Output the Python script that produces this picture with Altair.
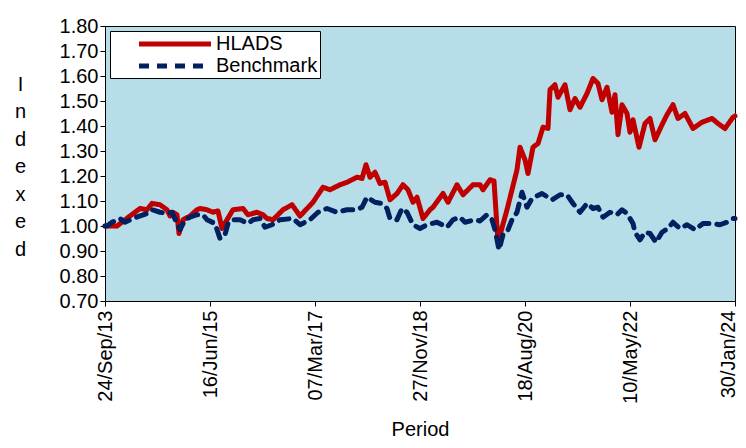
import altair as alt
import pandas as pd

START = "2013-09-24"

# days since 24/Sep/13 and indexed values
hlads_day = [0, 12, 72, 150, 210, 252, 282, 330, 372, 390, 408, 432, 444, 468, 510, 552, 570, 612,
             648, 678, 702, 732, 768, 828, 858, 912, 948, 972, 1008, 1068, 1122, 1170, 1248, 1308,
             1350, 1410, 1452, 1512, 1542, 1566, 1590, 1620, 1650, 1680, 1710, 1752, 1788, 1818,
             1848, 1872, 1908, 1950, 1968, 2028, 2058, 2112, 2148, 2208, 2250, 2268, 2310, 2334,
             2358, 2412, 2472, 2490, 2520, 2538, 2568, 2598, 2628, 2658, 2670, 2700, 2718, 2760,
             2790, 2820, 2850, 2892, 2928, 2958, 2982, 3012, 3042, 3060, 3078, 3102, 3132, 3150,
             3168, 3204, 3240, 3270, 3300, 3342, 3372, 3408, 3438, 3480, 3528, 3582, 3642, 3678,
             3720, 3768, 3780]
hlads_val = [1.00, 1.00, 1.00, 1.04, 1.07, 1.065, 1.09, 1.085, 1.065, 1.04, 1.055, 1.045, 0.97,
             1.025, 1.04, 1.065, 1.07, 1.065, 1.055, 1.06, 0.99, 1.025, 1.065, 1.07, 1.045, 1.055,
             1.045, 1.03, 1.025, 1.065, 1.085, 1.04, 1.095, 1.155, 1.145, 1.165, 1.175, 1.195,
             1.19, 1.245, 1.195, 1.215, 1.17, 1.175, 1.105, 1.13, 1.165, 1.145, 1.095, 1.115,
             1.03, 1.065, 1.075, 1.13, 1.095, 1.165, 1.125, 1.165, 1.165, 1.145, 1.185, 1.18,
             0.935, 1.065, 1.225, 1.315, 1.265, 1.21, 1.315, 1.33, 1.395, 1.39, 1.545, 1.565,
             1.515, 1.565, 1.465, 1.51, 1.475, 1.53, 1.59, 1.57, 1.505, 1.555, 1.455, 1.525,
             1.365, 1.485, 1.45, 1.375, 1.425, 1.315, 1.41, 1.43, 1.345, 1.405, 1.445, 1.485,
             1.43, 1.45, 1.39, 1.415, 1.43, 1.41, 1.39, 1.435, 1.44]

bench_day = [0, 12, 42, 90, 120, 168, 252, 282, 330, 372, 402, 432, 450, 480, 510, 552, 588, 612,
             660, 690, 720, 738, 762, 810, 858, 888, 930, 960, 1002, 1050, 1128, 1170, 1230, 1278,
             1332, 1392, 1452, 1512, 1542, 1572, 1620, 1662, 1692, 1710, 1752, 1782, 1812, 1848,
             1890, 1932, 1992, 2052, 2088, 2130, 2160, 2220, 2250, 2292, 2322, 2340, 2364, 2388,
             2412, 2442, 2472, 2502, 2532, 2562, 2622, 2682, 2730, 2772, 2808, 2850, 2892, 2928,
             2958, 2988, 3030, 3072, 3102, 3132, 3168, 3180, 3210, 3240, 3270, 3306, 3342, 3378,
             3408, 3450, 3492, 3540, 3588, 3648, 3690, 3732, 3768, 3780]
bench_val = [1.00, 1.00, 1.015, 1.03, 1.015, 1.03, 1.05, 1.065, 1.055, 1.05, 1.055, 1.01, 0.985,
             1.025, 1.035, 1.045, 1.045, 1.025, 1.01, 0.95, 0.965, 1.01, 1.025, 1.025, 1.01, 1.025,
             1.03, 0.995, 1.005, 1.025, 1.03, 1.005, 1.025, 1.055, 1.07, 1.055, 1.065, 1.065,
             1.075, 1.115, 1.095, 1.09, 1.07, 1.03, 1.025, 1.07, 1.055, 1.005, 0.99, 1.005, 1.015,
             0.995, 1.025, 1.035, 1.015, 1.025, 1.02, 1.045, 1.025, 0.985, 0.905, 0.965, 0.975,
             1.025, 1.055, 1.135, 1.075, 1.11, 1.13, 1.105, 1.125, 1.125, 1.09, 1.055, 1.09, 1.07,
             1.075, 1.035, 1.055, 1.045, 1.065, 1.05, 1.01, 0.975, 0.945, 0.975, 0.97, 0.935,
             0.975, 0.99, 1.015, 0.99, 1.005, 0.985, 1.01, 1.01, 1.005, 1.015, 1.03, 1.03]

series_names = ["HLADS", "Benchmark"]
series_colors = ["#C00000", "#002060"]
tick_dates = [(2013, 9, 24), (2015, 6, 16), (2017, 3, 7), (2018, 11, 27),
              (2020, 8, 18), (2022, 5, 10), (2024, 1, 30)]
y_ticks = [0.70, 0.80, 0.90, 1.00, 1.10, 1.20, 1.30, 1.40, 1.50, 1.60, 1.70, 1.80]

start = pd.Timestamp(START)
rows = []
for d, v in zip(hlads_day, hlads_val):
    rows.append({"date": (start + pd.Timedelta(days=d)).strftime("%Y-%m-%d"), "value": v,
                 "series": "HLADS"})
for d, v in zip(bench_day, bench_val):
    rows.append({"date": (start + pd.Timedelta(days=d)).strftime("%Y-%m-%d"), "value": v,
                 "series": "Benchmark"})
df = pd.DataFrame(rows)

FONT = "Liberation Sans"

x_vals = [alt.DateTime(year=y, month=m, date=d, hours=0) for (y, m, d) in tick_dates]

LEG_EXPR = "datum.label + '" + "\u00a0" * 10 + "'"

chart = alt.Chart(df).mark_line(strokeWidth=5, strokeCap="round", strokeJoin="round").encode(
    x=alt.X("date:T",
            scale=alt.Scale(domain=[x_vals[0], x_vals[-1]], nice=False),
            axis=alt.Axis(values=x_vals, format="%d/%b/%y", labelAngle=-90, labelAlign="right",
                          labelBaseline="middle", labelPadding=4, tickSize=5, labelFontSize=20,
                          labelFont=FONT, labelColor="black", tickColor="black",
                          labelOffset={"condition": {"test": "datum.index === 1", "value": -7},
                                       "value": 0},
                          domainColor="black", grid=False, title="Period", titleFontSize=20,
                          titleFont=FONT, titleFontWeight="normal", titleColor="black",
                          titleY=134, titleBaseline="alphabetic", labelOverlap=False,
                          labelFlush=False)),
    y=alt.Y("value:Q",
            scale=alt.Scale(domain=[0.7, 1.8], nice=False, zero=False),
            axis=alt.Axis(values=y_ticks, format=".2f", tickSize=5, labelPadding=2,
                          labelFontSize=20, labelFont=FONT, labelColor="black",
                          tickColor="black", domainColor="black", grid=False,
                          title=["I", "n", "d", "e", "x", "e", "d"], titleAngle=0,
                          titleFontSize=20, titleFont=FONT, titleFontWeight="normal",
                          titleColor="black", titleX=-85, titleY=48, titleAlign="center",
                          titleBaseline="top", titleLineHeight=27.5, labelOverlap=False)),
    color=alt.Color("series:N", scale=alt.Scale(domain=series_names, range=series_colors),
                    title=None, legend=alt.Legend(labelExpr=LEG_EXPR)),
    strokeDash=alt.StrokeDash("series:N",
                              scale=alt.Scale(domain=series_names, range=[[1, 0], [10, 8]]),
                              title=None, legend=alt.Legend(labelExpr=LEG_EXPR)),
).properties(
    width=630, height=275,
    background="white",
    padding={"left": 97, "top": 18, "right": 3, "bottom": 139},
    autosize=alt.AutoSizeParams(type="none"),
).configure_view(
    fill="#B7DEE8", stroke="black", strokeWidth=1
).configure_legend(
    orient="none", legendX=5, legendY=5, fillColor="white", strokeColor="black",
    padding=2, symbolType="M-4.235,0H4.235", symbolSize=289, symbolStrokeWidth=5,
    symbolOffset=52, labelFontSize=20, labelFont=FONT, labelColor="black",
    rowPadding=1, labelOffset=30, cornerRadius=0
)

chart.save("out.html", embed_options={"renderer": "svg", "actions": False})
